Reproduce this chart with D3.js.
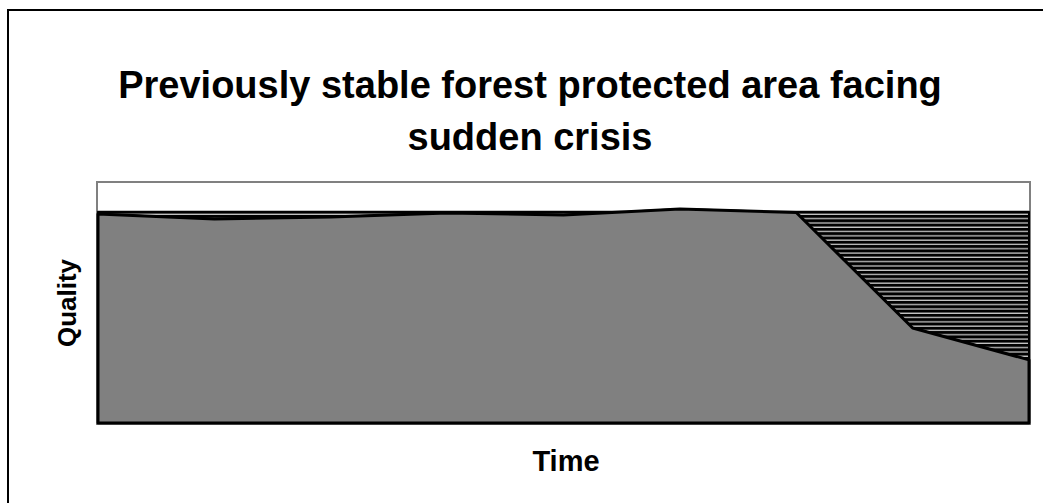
<!DOCTYPE html>
<html>
<head>
<meta charset="utf-8">
<script src="https://cdn.jsdelivr.net/npm/d3@7"></script>
<style>
  body { margin: 0; background: #fff; }
  svg text { font-family: Arial, "Liberation Sans", sans-serif; font-weight: bold; fill: #000; }
</style>
</head>
<body>
<svg id="chart" width="1043" height="503"></svg>
<script>
// chart values
var periods = [1, 2, 3, 4, 5, 6, 7, 8, 9];
var quality = [87.1, 85.0, 85.8, 87.5, 86.7, 89.2, 87.7, 39.6, 26.3];
var potential = [88, 88, 88, 88, 88, 88, 88, 88, 88];
var titleLines = ['Previously stable forest protected area facing', 'sudden crisis'];

var svg = d3.select('#chart');

// outer frame (runs off the picture on right/bottom)
svg.append('rect')
    .attr('x', 8).attr('y', 10)
    .attr('width', 1060).attr('height', 520)
    .attr('fill', 'none')
    .attr('stroke', '#000')
    .attr('stroke-width', 2);

var plotL = 98, plotR = 1029, plotT = 183, plotB = 423;

var x = d3.scalePoint().domain(periods).range([plotL, plotR]);
var y = d3.scaleLinear().domain([0, 100]).range([plotB, plotT]);

var defs = svg.append('defs');
var pat = defs.append('pattern')
    .attr('id', 'hatch')
    .attr('patternUnits', 'userSpaceOnUse')
    .attr('width', 8).attr('height', 4.3);
pat.append('rect').attr('width', 8).attr('height', 4.3).attr('fill', '#c8c8c8');
pat.append('rect').attr('width', 8).attr('height', 3).attr('fill', '#000');

// plot frame
svg.append('rect')
    .attr('x', plotL - 1).attr('y', plotT - 1)
    .attr('width', plotR - plotL + 2).attr('height', plotB - plotT + 2)
    .attr('fill', '#fff')
    .attr('stroke', '#808080')
    .attr('stroke-width', 2);

var rows = periods.map(function(p, i) {
    return { p: p, q: quality[i], t: potential[i] };
});

// gap between quality and its potential
svg.append('path')
    .datum(rows)
    .attr('fill', 'url(#hatch)')
    .attr('stroke', '#000')
    .attr('stroke-width', 2)
    .attr('stroke-linejoin', 'round')
    .attr('d', d3.area()
        .x(function(d) { return x(d.p); })
        .y0(function(d) { return y(d.q); })
        .y1(function(d) { return y(d.t); }));

svg.append('path')
    .datum(rows)
    .attr('fill', '#808080')
    .attr('stroke', '#000')
    .attr('stroke-width', 3)
    .attr('stroke-linejoin', 'round')
    .attr('d', d3.area()
        .x(function(d) { return x(d.p); })
        .y0(y(0))
        .y1(function(d) { return y(d.q); }));

// titles
svg.selectAll('.title')
    .data(titleLines)
    .enter().append('text')
    .attr('class', 'title')
    .attr('x', 530)
    .attr('y', function(d, i) { return 98 + i * 52; })
    .attr('text-anchor', 'middle')
    .attr('font-size', 38)
    .text(function(d) { return d; });

svg.append('text')
    .attr('x', 566)
    .attr('y', 471)
    .attr('text-anchor', 'middle')
    .attr('font-size', 29)
    .text('Time');

svg.append('text')
    .attr('transform', 'translate(76,' + (plotT + plotB) / 2 + ') rotate(-90)')
    .attr('text-anchor', 'middle')
    .attr('font-size', 26)
    .text('Quality');
</script>
</body>
</html>
